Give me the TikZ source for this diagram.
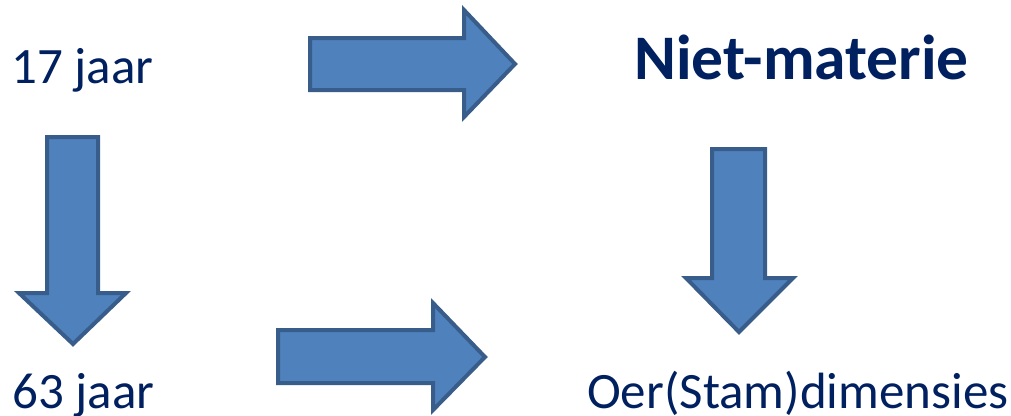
\documentclass[tikz,border=0pt]{standalone}
\usepackage{fontspec}
\setmainfont{Carlito}
\definecolor{arrowfill}{HTML}{4F81BD}
\definecolor{arrowline}{HTML}{385D8A}
\definecolor{textblue}{HTML}{002060}
\begin{document}
\begin{tikzpicture}[x=1pt,y=-1pt,
  blockarrow/.style={fill=arrowfill,draw=arrowline,line width=4pt,line join=miter},
  label/.style={inner sep=0pt,anchor=base west,text=textblue,font=\fontsize{51}{55}\selectfont},
  boldlabel/.style={label,font=\fontsize{63.5}{67}\selectfont\bfseries}]
\useasboundingbox (0,0) rectangle (1011,415);
% top right arrow
\draw[blockarrow] (310,38) -- (464,38) -- (464,10) -- (515,64) -- (464,117) -- (464,90) -- (310,90) -- cycle;
% left down arrow
\draw[blockarrow] (47,137) -- (98,137) -- (98,293) -- (126,293) -- (73,344) -- (19,293) -- (47,293) -- cycle;
% right down arrow
\draw[blockarrow] (712,149) -- (765,149) -- (765,278) -- (793,278) -- (739,332) -- (686,278) -- (712,278) -- cycle;
% bottom arrow
\draw[blockarrow] (278,330) -- (433,330) -- (433,303) -- (485,357) -- (433,410) -- (433,383) -- (278,383) -- cycle;
\node[label] (a) at (11,83) {17 jaar};
\node[label] (b) at (12,408) {63 jaar};
\node[boldlabel] (c) at (634,79) {Niet-materie};
\node[label] (d) at (587,408) {Oer(Stam)dimensies};
\end{tikzpicture}
\end{document}
